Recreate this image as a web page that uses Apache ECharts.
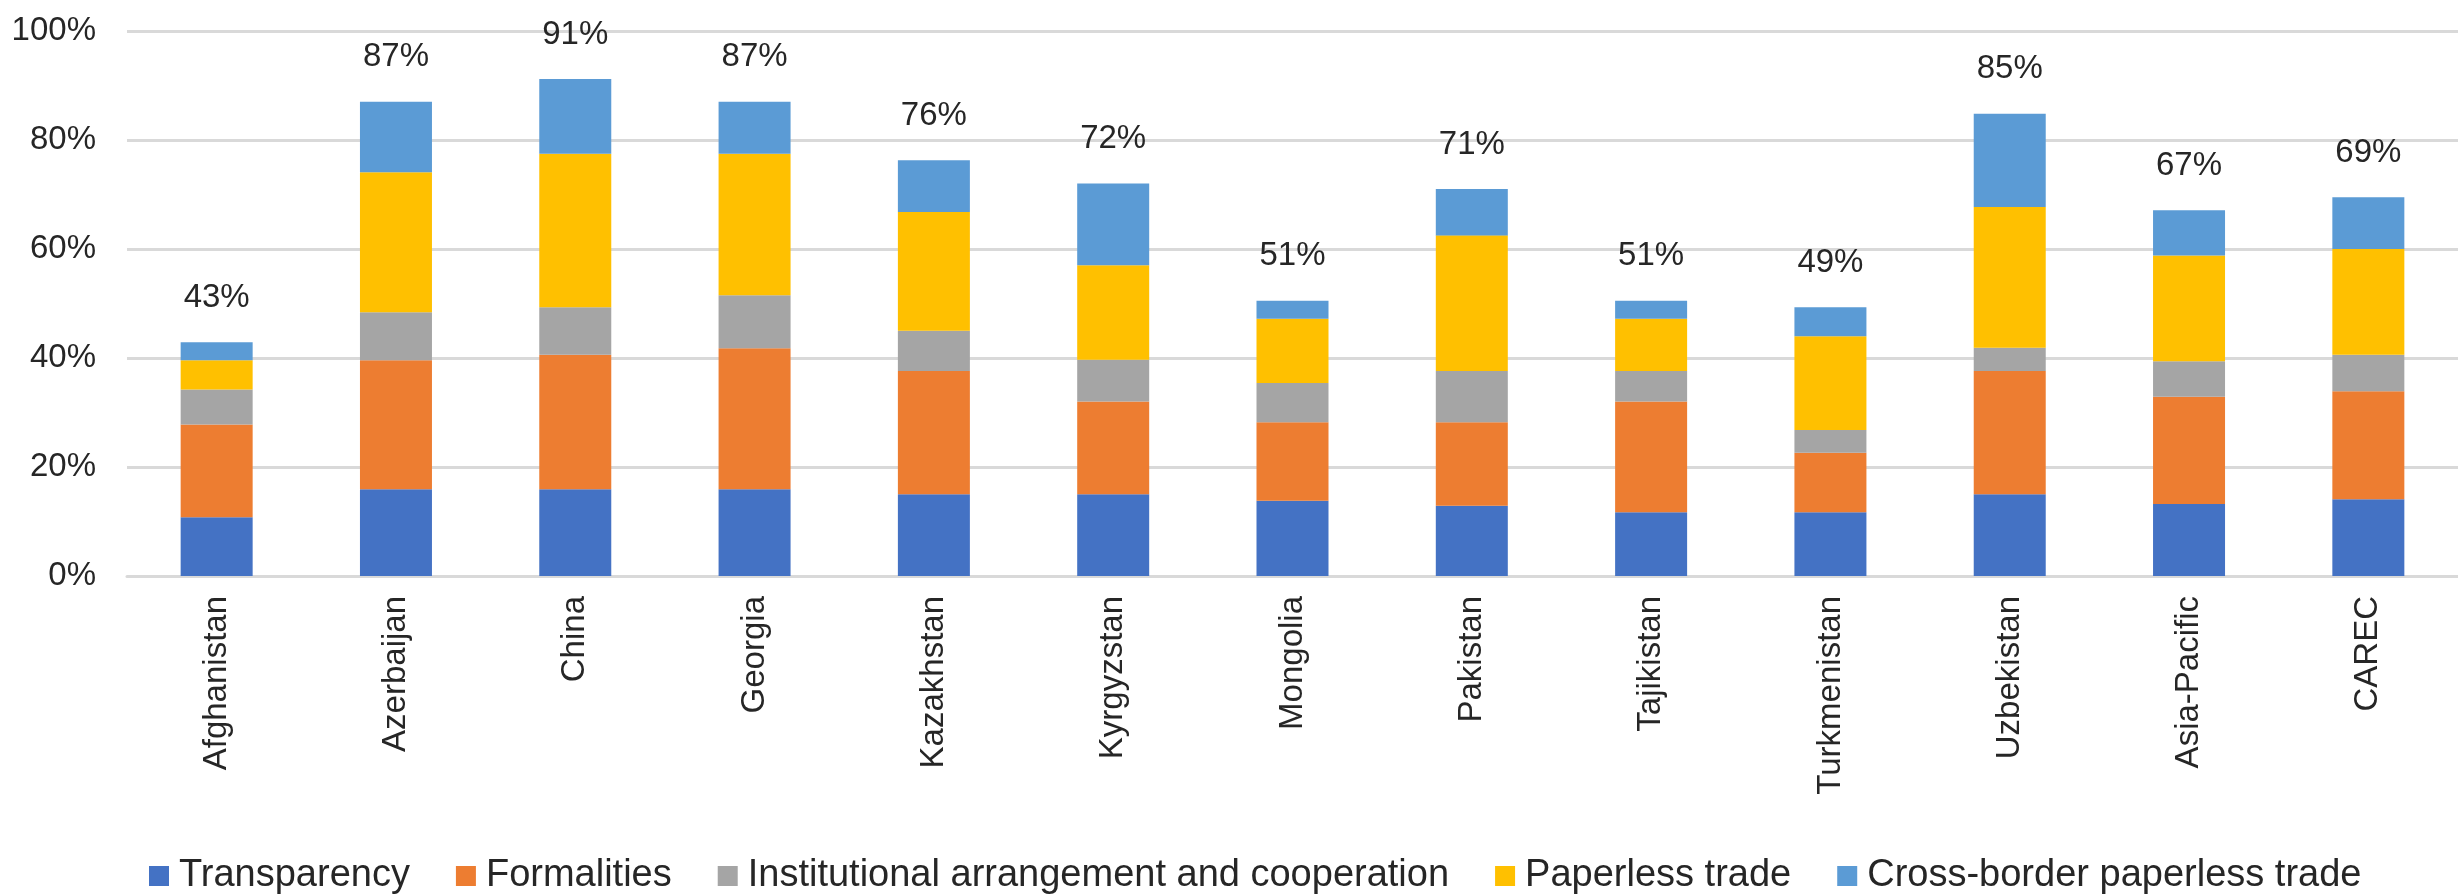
<!DOCTYPE html>
<html>
<head>
<meta charset="utf-8">
<script src="https://cdn.jsdelivr.net/npm/echarts@6/dist/echarts.min.js"></script>
<style>
html,body{margin:0;padding:0;background:#fff;}
#chart{width:2458px;height:896px;}
</style>
</head>
<body>
<div id="chart"></div>
<script>
const categories = ['Afghanistan','Azerbaijan','China','Georgia','Kazakhstan','Kyrgyzstan','Mongolia','Pakistan','Tajikistan','Turkmenistan','Uzbekistan','Asia-Pacific','CAREC'];
const seriesNames = ['Transparency','Formalities','Institutional arrangement and cooperation','Paperless trade','Cross-border paperless trade'];
const transparency = [10.8, 15.9, 15.9, 15.9, 15.0, 15.0, 13.8, 12.9, 11.7, 11.7, 15.0, 13.2, 14.1];
const formalities  = [17.0, 23.7, 24.7, 25.9, 22.6, 17.0, 14.4, 15.3, 20.3, 10.9, 22.6, 19.7, 19.8];
const institutional= [6.4, 8.8, 8.7, 9.7, 7.4, 7.7, 7.2, 9.4, 5.6, 4.2, 4.3, 6.5, 6.7];
const paperless    = [5.4, 25.7, 28.2, 26.0, 21.8, 17.3, 11.8, 24.9, 9.6, 17.2, 25.8, 19.4, 19.4];
const crossBorder  = [3.3, 12.9, 13.7, 9.5, 9.5, 15.0, 3.3, 8.5, 3.3, 5.3, 17.1, 8.3, 9.5];
const totalLabels  = [43, 87, 91, 87, 76, 72, 51, 71, 51, 49, 85, 67, 69];
const yTicks = [0, 20, 40, 60, 80, 100];

const colors = ['#4472C4','#ED7D31','#A5A5A5','#FFC000','#5B9BD5'];
const font = 'Liberation Sans, Arial, sans-serif';
const values = [transparency, formalities, institutional, paperless, crossBorder];

const chart = echarts.init(document.getElementById('chart'));
const series = values.map((arr, i) => {
  const s = {
    name: seriesNames[i],
    type: 'bar',
    stack: 'total',
    barWidth: 72,
    data: arr,
    itemStyle: { color: colors[i] },
    emphasis: { disabled: true }
  };
  if (i === values.length - 1) {
    s.label = {
      show: true,
      position: 'top',
      distance: 28,
      fontFamily: font,
      fontSize: 33,
      color: '#262626',
      formatter: p => totalLabels[p.dataIndex] + '%'
    };
  }
  return s;
});

chart.setOption({
  animation: false,
  color: colors,
  grid: { left: 127, right: -13, top: 31, bottom: 320, containLabel: false },
  legend: {
    data: seriesNames,
    left: 149,
    top: 857,
    padding: 0,
    itemWidth: 20,
    itemHeight: 20,
    itemGap: 46,
    icon: 'rect',
    textStyle: { fontFamily: font, fontSize: 38, color: '#262626', padding: [0,0,0,5] }
  },
  xAxis: {
    type: 'category',
    data: categories,
    axisTick: { show: false },
    axisLine: { show: true, lineStyle: { color: '#d9d9d9', width: 3 } },
    axisLabel: { rotate: 90, margin: 20, fontFamily: font, fontSize: 33, color: '#262626', interval: 0 }
  },
  yAxis: {
    type: 'value',
    min: yTicks[0],
    max: yTicks[yTicks.length - 1],
    interval: 20,
    axisLine: { show: false },
    axisTick: { show: false },
    splitLine: { lineStyle: { color: '#d9d9d9', width: 3 } },
    axisLabel: { margin: 31, fontFamily: font, fontSize: 33, color: '#262626', formatter: v => v + '%' }
  },
  series: series
});
</script>
</body>
</html>
